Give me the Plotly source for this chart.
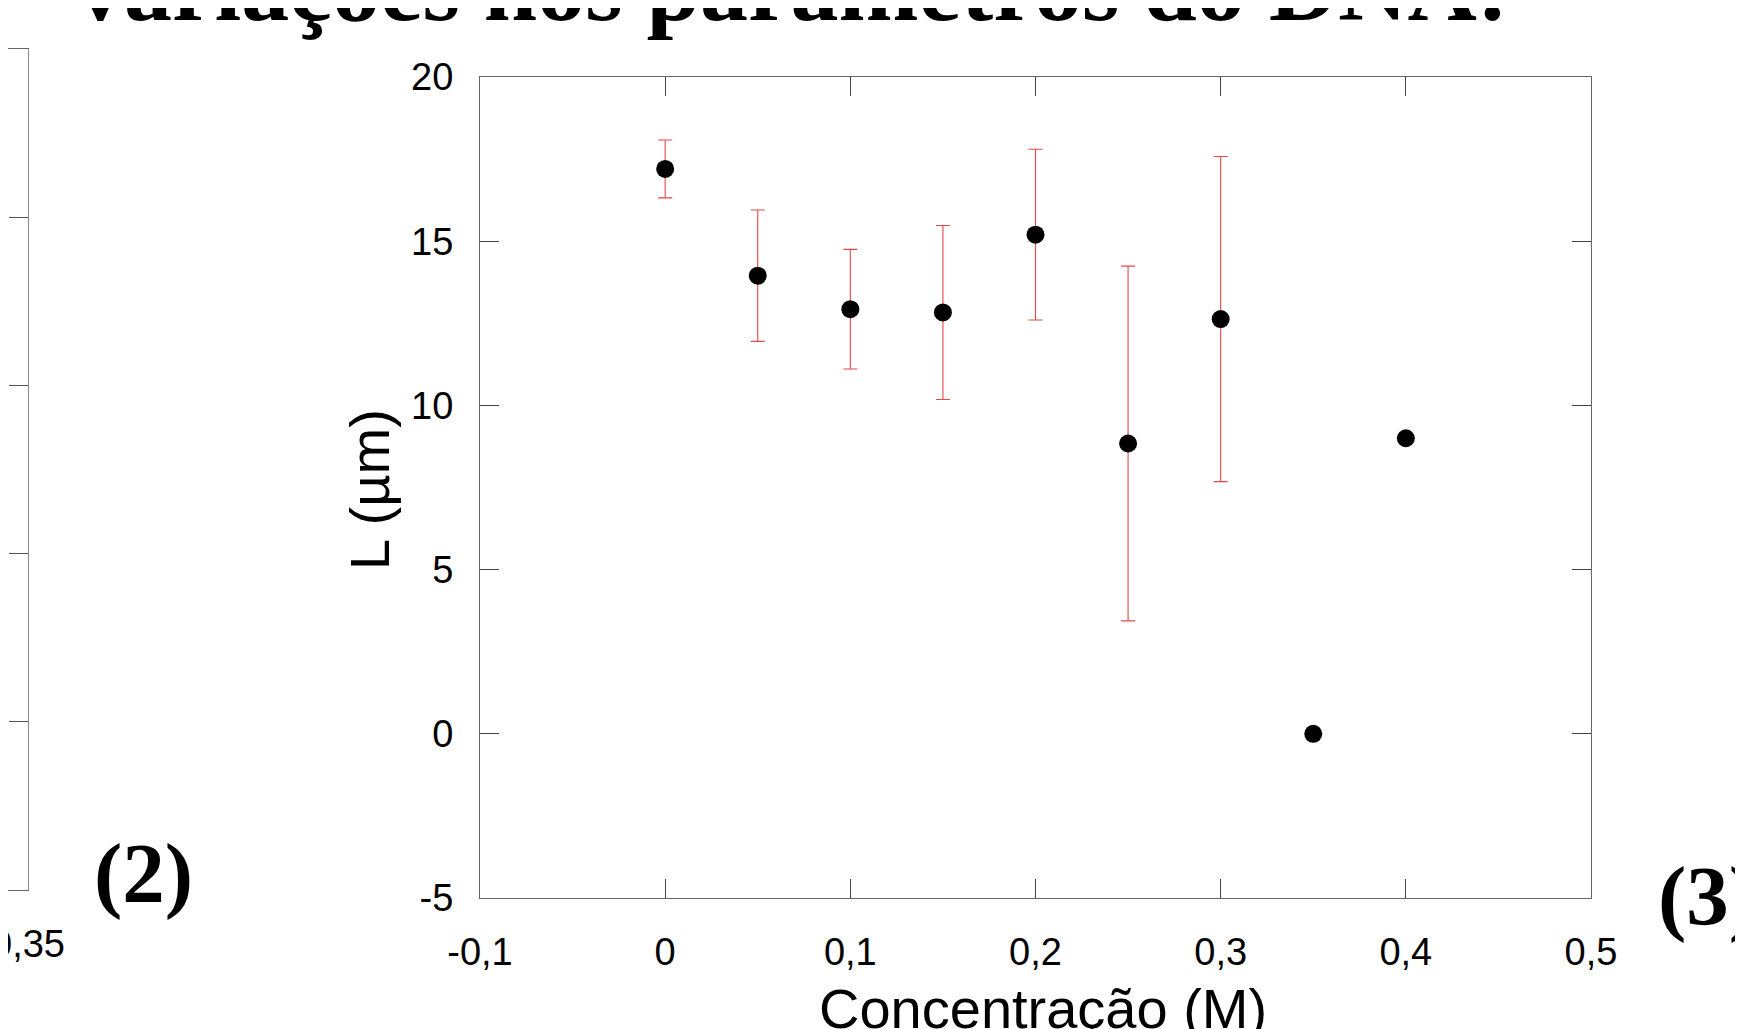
import plotly.graph_objects as go

# Data
conc = [0.0, 0.05, 0.10, 0.15, 0.20, 0.25, 0.30, 0.35, 0.40]
L_um = [17.2, 13.95, 12.93, 12.83, 15.2, 8.84, 12.63, 0.0, 9.0]
L_err = [0.88, 2.0, 1.82, 2.65, 2.6, 5.4, 4.95, 0.0, 0.0]

x_tickvals = [-0.1, 0.0, 0.1, 0.2, 0.3, 0.4, 0.5]
x_ticktext = ["-0,1", "0", "0,1", "0,2", "0,3", "0,4", "0,5"]
y_tickvals = [-5, 0, 5, 10, 15, 20]
y_ticktext = ["-5", "0", "5", "10", "15", "20"]

# partial neighbouring panel (2)
left_x_tickvals = [0.35]
left_x_ticktext = ["0,35"]
left_y_tickvals = [1, 2, 3, 4]

# figure is placed by the page 8px in from the top-left corner
W, H = 1735, 1021
SANS = "Liberation Sans, Arial, sans-serif"
SERIF = "Liberation Serif, Times New Roman, serif"

fig = go.Figure()

fig.add_trace(go.Scatter(
    x=conc, y=L_um, mode="markers",
    marker=dict(color="black", size=18),
    error_y=dict(type="data", array=L_err, visible=True,
                 color="#e8474a", thickness=1.1, width=7),
    xaxis="x", yaxis="y", showlegend=False, hoverinfo="x+y",
))

# invisible trace for the neighbouring panel
fig.add_trace(go.Scatter(x=[0.35], y=[0], mode="markers", marker=dict(opacity=0),
                         xaxis="x2", yaxis="y2", showlegend=False, hoverinfo="skip"))

axis_common = dict(showline=True, linecolor="#666", linewidth=1, ticks="inside",
                   ticklen=19, tickwidth=1, tickcolor="#444", showgrid=False,
                   zeroline=False, automargin=False,
                   tickfont=dict(family=SANS, size=38, color="black"))

fig.update_layout(
    width=W, height=H,
    margin=dict(l=0, r=0, t=0, b=0),
    paper_bgcolor="white", plot_bgcolor="white",
    xaxis=dict(domain=[472 / W, 1583 / W], range=[-0.1, 0.5], tickvals=x_tickvals,
               ticktext=x_ticktext, mirror="ticks", ticklabelstandoff=20, anchor="y",
               **axis_common),
    yaxis=dict(domain=[(H - 890) / H, (H - 69) / H], range=[-5, 20], tickvals=y_tickvals,
               ticktext=y_ticktext, mirror="ticks", ticklabelstandoff=18, anchor="x",
               **axis_common),
    xaxis2=dict(domain=[0, 20 / W], range=[0.30, 0.35], tickvals=left_x_tickvals,
                ticktext=left_x_ticktext, showline=True, mirror=True, linecolor="#666",
                ticks="", showgrid=False, zeroline=False, automargin=False,
                ticklabelstandoff=20, ticklabeloverflow="allow", anchor="y2",
                tickfont=dict(family=SANS, size=38, color="black")),
    yaxis2=dict(domain=[(H - 882) / H, (H - 41) / H], range=[0, 5], tickvals=left_y_tickvals,
                showticklabels=False, side="right", showline=True, linecolor="#888",
                ticks="inside", ticklen=19, tickwidth=1, tickcolor="#555",
                showgrid=False, zeroline=False, automargin=False, anchor="x2"),
    annotations=[
        dict(text="Concentração (M)", xref="paper", yref="paper", x=1035 / W, y=(H - 1000) / H,
             xanchor="center", yanchor="middle", showarrow=False,
             font=dict(family=SANS, size=56, color="black")),
        dict(text="L (µm)", xref="paper", yref="paper", x=361 / W, y=(H - 482) / H,
             xanchor="center", yanchor="middle", showarrow=False, textangle=-90,
             font=dict(family=SANS, size=56, color="black")),
        dict(text="<b>variações nos parâmetros do DNA:</b>", xref="paper", yref="paper",
             x=784 / W, y=(H + 21) / H, xanchor="center", yanchor="middle", showarrow=False,
             font=dict(family=SERIF, size=96, color="black")),
        dict(text="<b>(2)</b>", xref="paper", yref="paper", x=135 / W, y=(H - 865) / H,
             xanchor="center", yanchor="middle", showarrow=False,
             font=dict(family=SERIF, size=85, color="black")),
        dict(text="<b>(3)</b>", xref="paper", yref="paper", x=1648 / W, y=(H - 888) / H,
             xanchor="left", yanchor="middle", showarrow=False,
             font=dict(family=SERIF, size=85, color="black")),
    ],
)

fig.write_html("out.html")
